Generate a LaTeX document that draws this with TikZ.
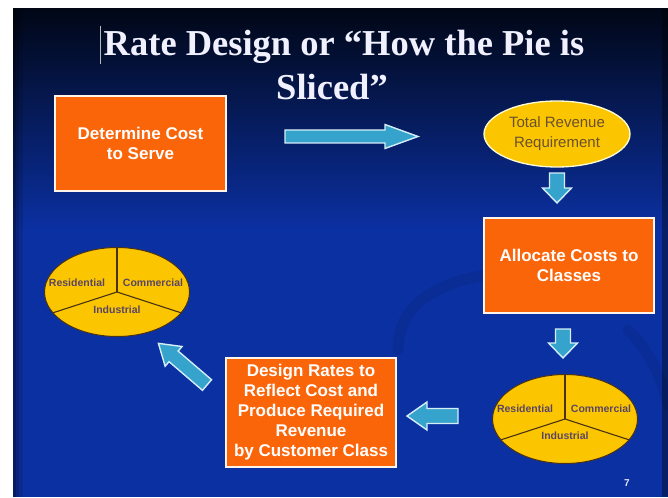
\documentclass[tikz,border=0pt]{standalone}
\usepackage{fontspec}
\setmainfont{Liberation Serif}
\setsansfont{Liberation Sans}
\usetikzlibrary{shapes.geometric}

\definecolor{slideblue}{HTML}{0B30A2}
\definecolor{slidemid}{HTML}{071F6E}
\definecolor{slidetop}{HTML}{010716}
\definecolor{boxorange}{HTML}{FB650A}
\definecolor{piegold}{HTML}{FBC600}
\definecolor{arrowfill}{HTML}{35A3CB}
\definecolor{arrowedge}{HTML}{D5EEF6}
\definecolor{pietext}{HTML}{5A4566}
\definecolor{pieedge}{HTML}{4A3218}
\definecolor{revtext}{HTML}{6B5030}

\begin{document}
\begin{tikzpicture}[x=1pt,y=-1pt,
  stepbox/.style={rectangle, draw=white!92!orange, line width=1.2pt,
    fill=boxorange, text=white, align=center, inner sep=0pt,
    font=\sffamily\bfseries\fontsize{17}{20}\selectfont},
  revell/.style={ellipse, draw=white!85!yellow, line width=1.3pt,
    fill=piegold, text=revtext, align=center, inner sep=0pt,
    minimum width=146pt, minimum height=66pt,
    font=\sffamily\fontsize{15}{20}\selectfont},
  pie/.style={ellipse, draw=pieedge, line width=1pt, fill=piegold,
    inner sep=0pt, minimum width=145pt, minimum height=89pt},
  pieline/.style={draw=pieedge, line width=1.1pt},
  pielabel/.style={text=pietext, inner sep=0pt,
    font=\sffamily\bfseries\fontsize{10.5}{12}\selectfont},
  titletext/.style={text=white!94!blue, inner sep=0pt, anchor=base,
    font=\bfseries\fontsize{36.5}{40}\selectfont},
  arrowbody/.style={fill=arrowfill, draw=arrowedge, line width=1.4pt,
    line join=miter},
  pics/barrow/.style n args={4}{code={
    \draw[arrowbody] (0,-#2) -- (#1-#4,-#2) -- (#1-#4,-#3) -- (#1,0)
      -- (#1-#4,#3) -- (#1-#4,#2) -- (0,#2) -- cycle;}}
]
\useasboundingbox (0,0) rectangle (668,497);
\fill[white] (0,0) rectangle (668,497);

% slide background
\shade[top color=slidetop, middle color=slidemid, bottom color=slideblue]
  (13,9) rectangle (668,230);
\fill[slideblue] (13,230) rectangle (668,497);
\fill[black, opacity=0.40] (13,9) rectangle (16,497);
\fill[black, opacity=0.25] (16,9) rectangle (19,497);
\fill[black, opacity=0.12] (19,9) rectangle (23,497);
\fill[black, opacity=0.35] (662,9) rectangle (668,497);

% faint swoosh behind the right column
\draw[black, opacity=0.08, line width=11pt, line cap=round]
  (398,350) .. controls (398,292) and (460,272) .. (540,270);
\draw[black, opacity=0.07, line width=11pt, line cap=round]
  (628,330) .. controls (650,350) and (662,380) .. (668,405);

% title
\node[titletext] (t1) at (344,56) {Rate Design or “How the Pie is};
\node[titletext] (t2) at (332,100) {Sliced”};
\draw[gray!55!white, line width=0.8pt] (100,26) -- (100,64);

% process steps
\node[stepbox, minimum width=171pt, minimum height=95pt] (cost) at (140.5,143.5)
  {Determine Cost\\to Serve};
\node[revell] (rev) at (557,134) {Total Revenue\\Requirement};
\node[stepbox, minimum width=170pt, minimum height=95pt] (alloc) at (569,265.5)
  {Allocate Costs to\\Classes};
\node[stepbox, minimum width=170pt, minimum height=109pt] (design) at (311,412.5)
  {Design Rates to\\Reflect Cost and\\Produce Required\\Revenue\\by Customer Class};

% pie split into customer classes (right)
\node[pie] (pieR) at (565,419) {};
\draw[pieline] (pieR.center) -- (pieR.90);
\draw[pieline] (pieR.center) -- (pieR.198);
\draw[pieline] (pieR.center) -- (pieR.-18);
\node[pielabel] (resR) at ([shift={(-40,-10)}]pieR.center) {Residential};
\node[pielabel] (comR) at ([shift={(36,-10)}]pieR.center) {Commercial};
\node[pielabel] (indR) at ([shift={(0,17)}]pieR.center) {Industrial};

% pie split into customer classes (left)
\node[pie] (pieL) at (117,292) {};
\draw[pieline] (pieL.center) -- (pieL.90);
\draw[pieline] (pieL.center) -- (pieL.198);
\draw[pieline] (pieL.center) -- (pieL.-18);
\node[pielabel] (resL) at ([shift={(-40,-9)}]pieL.center) {Residential};
\node[pielabel] (comL) at ([shift={(36,-9)}]pieL.center) {Commercial};
\node[pielabel] (indL) at ([shift={(0,18)}]pieL.center) {Industrial};

% block arrows between the steps
\pic (a1) at (285,136.5) {barrow={133}{6.5}{12}{33}};
\pic[rotate=-90] (a2) at (557,173) {barrow={30}{7.5}{14.5}{15}};
\pic[rotate=-90] (a3) at (563,329) {barrow={29}{7.5}{14.5}{15}};
\pic[rotate=180] (a4) at (458,416) {barrow={51}{7.5}{14}{20}};
\pic[rotate=139.4] (a5) at (207,385) {barrow={64}{7}{13}{20}};

% slide number
\node[text=white!90!blue, inner sep=0pt,
  font=\sffamily\bfseries\fontsize{10}{12}\selectfont] (pgnum) at (627,483) {7};
\end{tikzpicture}
\end{document}
